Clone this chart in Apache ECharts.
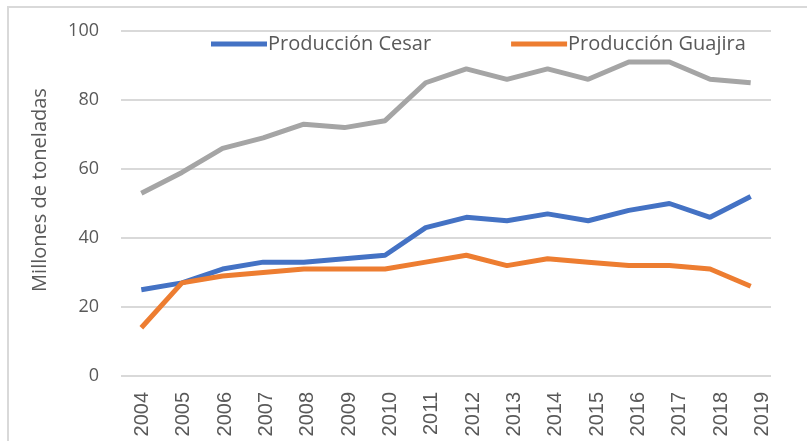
<!DOCTYPE html>
<html>
<head>
<meta charset="utf-8">
<script src="https://cdn.jsdelivr.net/npm/echarts@6/dist/echarts.min.js"></script>
<style>
  html, body { margin: 0; padding: 0; background: #fff; }
  #chart { width: 807px; height: 441px; }
</style>
</head>
<body>
<div id="chart"></div>
<script>
// años
const years = ['2004', '2005', '2006', '2007', '2008', '2009', '2010', '2011',
  '2012', '2013', '2014', '2015', '2016', '2017', '2018', '2019'];
// millones de toneladas
const total = [53, 59, 66, 69, 73, 72, 74, 85, 89, 86, 89, 86, 91, 91, 86, 85];
const cesar = [25, 27, 31, 33, 33, 34, 35, 43, 46, 45, 47, 45, 48, 50, 46, 52];
const guajira = [14, 27, 29, 30, 31, 31, 31, 33, 35, 32, 34, 33, 32, 32, 31, 26];
const yTicks = [0, 20, 40, 60, 80, 100];

const chart = echarts.init(document.getElementById('chart'));
const font = '"Open Sans", "Noto Sans", sans-serif';

const option = {
  animation: false,
  backgroundColor: '#fff',
  graphic: [
    {
      type: 'rect',
      shape: { x: 8, y: 7, width: 820, height: 460 },
      style: { fill: 'none', stroke: '#d9d9d9', lineWidth: 2 },
      silent: true
    },
    {
      // título del eje y
      type: 'text',
      x: 40,
      y: 190,
      rotation: Math.PI / 2,
      style: {
        text: 'Millones de toneladas',
        fontFamily: font,
        fontSize: 20,
        fill: '#595959',
        align: 'center',
        verticalAlign: 'middle'
      },
      silent: true
    }
  ],
  legend: {
    data: ['Producción Cesar', 'Producción Guajira'],
    top: 29,
    left: 206,
    itemGap: 80,
    itemWidth: 56,
    itemHeight: 5,
    icon: 'rect',
    textStyle: { fontFamily: font, fontSize: 20, color: '#595959', padding: [0, 0, 0, -4] }
  },
  grid: [
    { left: 121, right: 36, top: 31, bottom: 65 },
    // rejilla solo para las etiquetas de años
    { left: 122, right: 24, top: 31, bottom: 65 }
  ],
  xAxis: [
    {
      type: 'category',
      gridIndex: 0,
      data: years,
      boundaryGap: true,
      axisLine: { show: false },
      axisTick: { show: false },
      axisLabel: { show: false }
    },
    {
      type: 'category',
      gridIndex: 1,
      data: years,
      boundaryGap: true,
      axisLine: { show: false },
      axisTick: { show: false },
      splitLine: { show: false },
      axisLabel: {
        rotate: 90,
        margin: 16,
        interval: 0,
        fontFamily: '"Liberation Sans", Arial, sans-serif',
        fontSize: 20,
        color: '#595959'
      }
    }
  ],
  yAxis: [
    {
      type: 'value',
      gridIndex: 0,
      min: yTicks[0],
      max: yTicks[yTicks.length - 1],
      interval: 20,
      axisLine: { show: false },
      axisTick: { show: false },
      axisLabel: { margin: 22, fontFamily: font, fontSize: 18, color: '#595959' },
      splitLine: { lineStyle: { color: '#d9d9d9', width: 2 } }
    },
    {
      type: 'value',
      gridIndex: 1,
      min: yTicks[0],
      max: yTicks[yTicks.length - 1],
      show: false,
      splitLine: { show: false }
    }
  ],
  series: [
    {
      name: 'Producción total',
      type: 'line',
      data: total,
      symbol: 'none',
      lineStyle: { color: '#a5a5a5', width: 5 },
      itemStyle: { color: '#a5a5a5' }
    },
    {
      name: 'Producción Cesar',
      type: 'line',
      data: cesar,
      symbol: 'none',
      lineStyle: { color: '#4472c4', width: 5 },
      itemStyle: { color: '#4472c4' }
    },
    {
      name: 'Producción Guajira',
      type: 'line',
      data: guajira,
      symbol: 'none',
      lineStyle: { color: '#ed7d31', width: 5 },
      itemStyle: { color: '#ed7d31' }
    }
  ]
};

chart.setOption(option);
</script>
</body>
</html>
